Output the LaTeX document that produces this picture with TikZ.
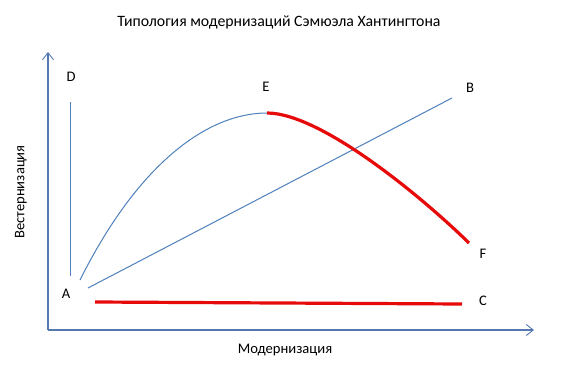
\documentclass[tikz,border=0pt]{standalone}
\usepackage{fontspec}
\setmainfont{Carlito}
\usetikzlibrary{arrows.meta}
\definecolor{axisblue}{RGB}{86,120,176}
\definecolor{lineblue}{RGB}{79,129,189}
\definecolor{curvered}{RGB}{230,10,10}
\tikzset{
  axis/.style={draw=axisblue, line width=1.1pt, -{Straight Barb[length=7pt,width=11pt,line width=0.9pt]}},
  thinline/.style={draw=lineblue, line width=1pt},
  redline/.style={draw=curvered, line width=3.2pt},
  lbl/.style={font=\fontsize{14.6}{16}\selectfont, inner sep=0pt, text=black},
}
\begin{document}
\begin{tikzpicture}[x=1pt,y=-1pt]
\useasboundingbox[fill=white] (0,0) rectangle (566,370);
\node[lbl, font=\fontsize{15.8}{18}\selectfont] (title) at (279,22) {Типология модернизаций Сэмюэла Хантингтона};
\coordinate (O) at (48,330);
\coordinate (Ytip) at (48,52);
\coordinate (Xtip) at (534,330);
\draw[axis] (O) -- (Ytip);
\draw[axis] (O) -- (Xtip);
\node[lbl, rotate=90] (ylab) at (21,192) {Вестернизация};
\node[lbl] (xlab) at (285,350) {Модернизация};
% labels
\node[lbl] (D) at (71,77) {D};
\node[lbl] (A) at (66,294) {A};
\node[lbl] (E) at (266,87) {E};
\node[lbl] (B) at (470,88) {B};
\node[lbl] (F) at (483,254) {F};
\node[lbl] (C) at (483,301) {C};
% points
\coordinate (d0) at (70,276);
\coordinate (d1) at (70,102);
\coordinate (a1) at (80,280);
\coordinate (a2) at (88,288);
\coordinate (b1) at (452,98);
\coordinate (e1) at (267,113);
\coordinate (f1) at (469,243);
\coordinate (c0) at (95,302);
\coordinate (c1) at (462,304);
\draw[thinline] (d0) -- (d1);
\draw[thinline] (a2) -- (b1);
\draw[thinline] (a1) .. controls (140,160) and (210,113) .. (e1);
\draw[redline] (e1) .. controls (320,113) and (420,195) .. (f1);
\draw[redline] (c0) -- (c1);
\end{tikzpicture}
\end{document}
